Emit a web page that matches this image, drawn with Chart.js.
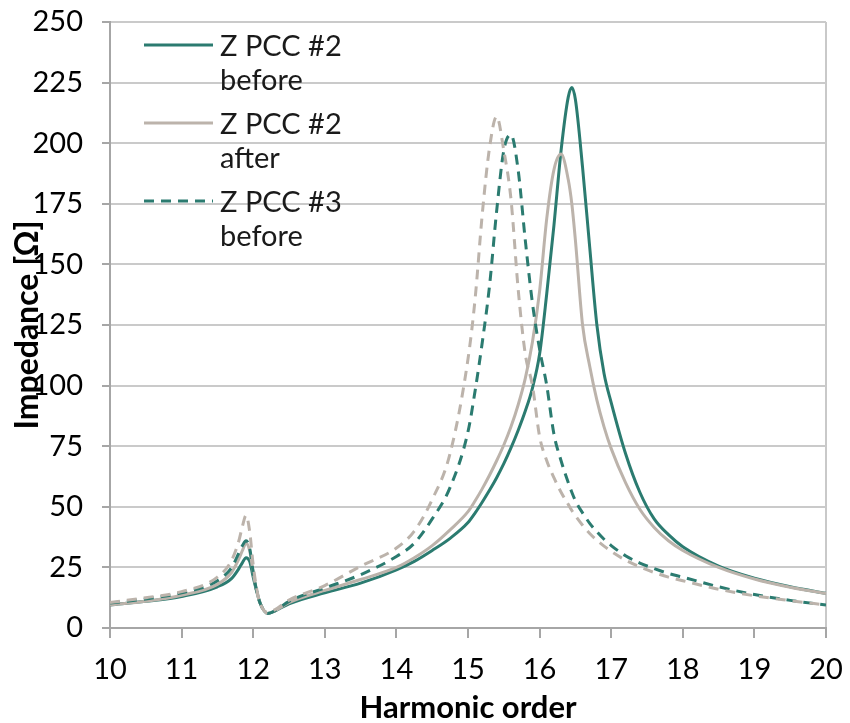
<!DOCTYPE html>
<html>
<head>
<meta charset="utf-8">
<script src="https://cdn.jsdelivr.net/npm/chart.js@4.4.1/dist/chart.umd.min.js"></script>
<style>
  html, body { margin: 0; padding: 0; background: #ffffff; }
  #wrap { width: 850px; height: 723px; position: relative; }
</style>
</head>
<body>
<div id="wrap"><canvas id="c" width="850" height="723"></canvas></div>
<script>
// Harmonic order (x values)
const harmonic = [10, 10.5, 11, 11.5, 11.7, 11.8, 11.85, 11.9, 11.95, 12.0, 12.05, 12.1, 12.2, 12.3, 12.5, 13, 13.5, 14, 14.25, 14.5, 14.75, 15, 15.1, 15.2, 15.3, 15.4, 15.5, 15.6, 15.7, 15.8, 15.9, 16, 16.1, 16.2, 16.3, 16.4, 16.45, 16.5, 16.6, 16.7, 16.8, 16.9, 17, 17.2, 17.4, 17.6, 17.8, 18, 18.5, 19, 19.5, 20];

// Impedance [Ω]
const zPcc2Before = [9.5, 11, 13, 17, 20.5, 24.5, 27, 29, 27.5, 21, 15, 10, 6, 7, 10, 14.5, 18.5, 24, 27.5, 32, 37, 43.5, 47.5, 52, 56.8, 62, 67.8, 74.3, 81.5, 89.5, 99, 113, 138, 166, 197, 219, 223, 218, 190, 157, 125, 105, 93, 72, 56, 45, 38.5, 33.5, 25.5, 20.5, 17, 14.3];
const zPcc2After  = [9.5, 11, 13.5, 18, 23, 28.5, 32, 35, 32, 23, 15, 10, 6, 7, 10.5, 15.5, 20, 25, 29, 34, 40.5, 48, 52.5, 57.5, 63, 69, 75.5, 83, 92, 103, 118, 139, 169, 189, 195.5, 185, 175, 160, 125, 108, 94, 83, 74, 60, 49, 41.5, 36, 32, 25, 20.2, 16.8, 14.2];
const zPcc3Before = [10.3, 12, 14.5, 19.5, 25, 31, 34, 36, 33, 23, 15, 10, 6, 7, 11, 16.5, 22, 29.5, 35, 45, 58, 81, 98, 118, 141, 172, 197, 203.5, 189, 160, 134, 115, 100, 80, 69, 60, 56, 52.5, 47.5, 43.2, 39.7, 36.6, 34, 29.8, 26.8, 24.5, 22.5, 21, 17, 13.8, 11.4, 9.5];
const zPcc3After  = [10.5, 12.5, 15, 21, 28, 36, 42, 46.5, 40, 26, 16, 10, 6.5, 7.5, 11.5, 17.5, 25.5, 33, 40, 53, 72, 111, 136, 171, 198, 211, 197, 177, 140, 113, 100, 79, 69, 62, 56, 51, 48.5, 46.3, 42.4, 39, 36.2, 33.8, 31.6, 28, 25.2, 22.9, 21, 19.5, 16, 13.3, 11.3, 9.5];

const seriesNames = ["Z PCC #2 before", "Z PCC #2 after", "Z PCC #3 before", "Z PCC #3 after"];
const legendLines = [["Z PCC #2", "before"], ["Z PCC #2", "after"], ["Z PCC #3", "before"]];
const yTicks = [0, 25, 50, 75, 100, 125, 150, 175, 200, 225, 250];
const xTicks = [10, 11, 12, 13, 14, 15, 16, 17, 18, 19, 20];

const TEAL = '#2B7B70';
const GREY = '#BCB3AB';
const FONT = 'Lato, "Open Sans", sans-serif';

function pts(ys) { return harmonic.map((h, i) => ({ x: h, y: ys[i] })); }

const styles = [
  { color: TEAL, dash: [] },
  { color: GREY, dash: [] },
  { color: TEAL, dash: [10, 7] },
  { color: GREY, dash: [10, 7] }
];
const allSeries = [zPcc2Before, zPcc2After, zPcc3Before, zPcc3After];

const datasets = allSeries.map((ys, i) => ({
  label: seriesNames[i],
  data: pts(ys),
  borderColor: styles[i].color,
  backgroundColor: styles[i].color,
  borderDash: styles[i].dash,
  borderWidth: 3,
  pointRadius: 0,
  fill: false,
  cubicInterpolationMode: 'monotone',
  order: 4 - i
}));

const legendPlugin = {
  id: 'inlineLegend',
  afterDraw(chart) {
    const ctx = chart.ctx;
    ctx.save();
    const x0 = 144, x1 = 213, tx = 220;
    const baseY = [45, 123, 201];
    legendLines.forEach((lines, i) => {
      const y = baseY[i];
      ctx.beginPath();
      ctx.strokeStyle = styles[i].color;
      ctx.lineWidth = 3;
      ctx.setLineDash(styles[i].dash);
      ctx.moveTo(x0, y);
      ctx.lineTo(x1, y);
      ctx.stroke();
      ctx.setLineDash([]);
      ctx.fillStyle = '#1a1a1a';
      ctx.font = '29px ' + FONT;
      ctx.textAlign = 'left';
      ctx.textBaseline = 'alphabetic';
      ctx.fillText(lines[0], tx, y + 11);
      ctx.fillText(lines[1], tx, y + 45);
    });
    ctx.restore();
  }
};

new Chart(document.getElementById('c'), {
  type: 'line',
  data: { datasets },
  plugins: [legendPlugin],
  options: {
    responsive: false,
    animation: false,
    devicePixelRatio: 1,
    layout: { padding: { top: 22, right: 24, bottom: 0, left: 0 } },
    plugins: { legend: { display: false }, tooltip: { enabled: false } },
    scales: {
      x: {
        type: 'linear',
        min: 10, max: 20,
        afterBuildTicks(scale) { scale.ticks = xTicks.map(v => ({ value: v })); },
        afterFit(scale) { scale.height = 95; scale.paddingLeft = 0; scale.paddingRight = 0; },
        ticks: { font: { family: FONT, size: 29 }, color: '#000', padding: 14, maxRotation: 0 },
        grid: {
          drawOnChartArea: true,
          color: (c) => (c.tick && c.tick.value === 20) ? '#C9C9C9' : 'rgba(0,0,0,0)',
          lineWidth: 2,
          tickColor: '#A6A6A6',
          tickLength: 10
        },
        border: { color: '#A6A6A6', width: 2 },
        title: { display: true, text: 'Harmonic order', color: '#000', font: { family: FONT, size: 31, weight: 'bold', lineHeight: 1.0 }, padding: { top: 0, bottom: 0 } }
      },
      y: {
        min: 0, max: 250,
        afterBuildTicks(scale) { scale.ticks = yTicks.map(v => ({ value: v })); },
        afterFit(scale) { scale.width = 110; scale.paddingTop = 0; scale.paddingBottom = 0; },
        ticks: { font: { family: FONT, size: 29 }, color: '#000', padding: 19 },
        grid: { color: '#CACACA', lineWidth: 2, tickColor: '#A6A6A6', tickLength: 8 },
        border: { color: '#A6A6A6', width: 2 },
        title: { display: true, text: 'Impedance [Ω]', color: '#000', font: { family: FONT, size: 32, weight: 'bold' }, padding: { top: 8, bottom: 0 } }
      }
    }
  }
});
</script>
</body>
</html>
